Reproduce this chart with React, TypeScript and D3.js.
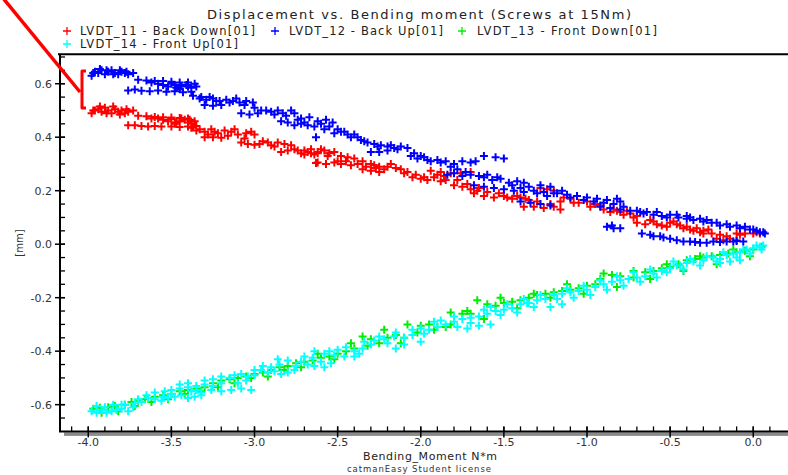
import { useEffect, useRef } from "react";
import * as d3 from "d3";

type Pt = [number, number];

const chartTitle = "Displacement vs. Bending moment (Screws at 15Nm)";
const seriesNames = [
  "LVDT_11 - Back Down[01]",
  "LVDT_12 - Back Up[01]",
  "LVDT_13 - Front Down[01]",
  "LVDT_14 - Front Up[01]",
];
const seriesColors = ["#ff0000", "#0000ff", "#00ee00", "#00ffff"];
const xMajorTicks = [-4.0, -3.5, -3.0, -2.5, -2.0, -1.5, -1.0, -0.5, 0.0];
const yMajorTicks = [-0.6, -0.4, -0.2, 0.0, 0.2, 0.4, 0.6];

// LVDT_11 - Back Down (red)
const backDown: Pt[] = [
  [-3.98, 0.49], [-3.96, 0.5], [-3.94, 0.505], [-3.92, 0.495], [-3.9, 0.51], [-3.88, 0.5], [-3.86, 0.49],
  [-3.84, 0.505], [-3.82, 0.495], [-3.8, 0.5], [-3.78, 0.49], [-3.76, 0.495], [-3.73, 0.5],
  [-3.7, 0.48], [-3.65, 0.478], [-3.6, 0.476], [-3.55, 0.475], [-3.5, 0.474], [-3.45, 0.472], [-3.4, 0.47],
  [-3.58, 0.47], [-3.55, 0.465], [-3.52, 0.46], [-3.5, 0.468], [-3.47, 0.455], [-3.45, 0.46], [-3.42, 0.465],
  [-3.4, 0.455], [-3.38, 0.45], [-3.36, 0.46],
  [-3.76, 0.445], [-3.72, 0.445], [-3.68, 0.442], [-3.64, 0.44], [-3.6, 0.442], [-3.56, 0.44], [-3.5, 0.44],
  [-3.45, 0.438], [-3.4, 0.44], [-3.35, 0.442],
  [-3.38, 0.435], [-3.35, 0.425], [-3.3, 0.42], [-3.26, 0.43], [-3.22, 0.415], [-3.18, 0.425], [-3.14, 0.42],
  [-3.1, 0.41], [-3.05, 0.415], [-3.0, 0.41], [-3.3, 0.4], [-3.25, 0.4], [-3.2, 0.398],
  [-3.08, 0.38], [-3.04, 0.375], [-3.0, 0.372], [-2.95, 0.385], [-2.9, 0.37], [-2.86, 0.38], [-2.82, 0.375], [-2.78, 0.37],
  [-2.84, 0.345], [-2.8, 0.35], [-2.76, 0.355], [-2.72, 0.34], [-2.68, 0.345], [-2.64, 0.335], [-2.62, 0.34], [-2.63, 0.304],
  [-2.7, 0.35], [-2.66, 0.355], [-2.62, 0.345], [-2.58, 0.35], [-2.55, 0.34], [-2.52, 0.345],
  [-2.62, 0.305], [-2.57, 0.3], [-2.52, 0.305], [-2.48, 0.3],
  [-2.48, 0.33], [-2.44, 0.325], [-2.4, 0.32], [-2.35, 0.31], [-2.3, 0.3], [-2.27, 0.285], [-2.25, 0.29], [-2.2, 0.29],
  [-2.15, 0.285], [-2.12, 0.28], [-2.08, 0.27], [-2.35, 0.28], [-2.3, 0.275], [-2.25, 0.27],
  [-2.05, 0.25], [-2.0, 0.245], [-1.96, 0.24], [-1.92, 0.25], [-1.88, 0.235], [-1.85, 0.24],
  [-1.94, 0.275], [-1.88, 0.27], [-1.82, 0.265], [-1.76, 0.265], [-1.7, 0.27],
  [-1.8, 0.22], [-1.75, 0.215], [-1.7, 0.205], [-1.65, 0.21],
  [-1.68, 0.19], [-1.62, 0.18], [-1.56, 0.175], [-1.5, 0.18], [-1.45, 0.17], [-1.4, 0.175], [-1.35, 0.165],
  [-1.38, 0.14], [-1.32, 0.14], [-1.26, 0.135], [-1.2, 0.14], [-1.16, 0.13],
  [-1.28, 0.21], [-1.24, 0.205], [-1.2, 0.2],
  [-1.16, 0.16], [-1.1, 0.17], [-1.05, 0.155], [-1.0, 0.16], [-0.95, 0.15],
  [-0.9, 0.13], [-0.86, 0.12], [-0.82, 0.125], [-0.78, 0.11], [-0.74, 0.115], [-0.7, 0.105],
  [-0.7, 0.08], [-0.65, 0.075], [-0.6, 0.085], [-0.55, 0.07], [-0.5, 0.08], [-0.46, 0.075],
  [-0.42, 0.06], [-0.38, 0.055], [-0.34, 0.06], [-0.3, 0.05], [-0.27, 0.055],
  [-0.22, 0.02], [-0.18, 0.015], [-0.14, 0.02], [-0.1, 0.015],
  [-0.3, 0.04], [-0.2, 0.035], [-0.1, 0.04], [0.0, 0.04], [0.04, 0.04],
  [-3.97, 0.5], [-3.93, 0.515], [-3.89, 0.49], [-3.85, 0.515], [-3.81, 0.485], [-3.77, 0.505], [-3.62, 0.47],
  [-3.48, 0.45], [-3.44, 0.47], [-3.39, 0.465], [-3.37, 0.44], [-3.33, 0.43], [-3.28, 0.41], [-3.24, 0.42],
  [-3.16, 0.405], [-3.12, 0.43], [-3.06, 0.395], [-3.02, 0.42], [-2.97, 0.375], [-2.92, 0.38], [-2.88, 0.365],
  [-2.74, 0.35], [-2.7, 0.335], [-2.66, 0.34], [-2.6, 0.355], [-2.56, 0.33], [-2.5, 0.31], [-2.45, 0.31],
  [-2.42, 0.295], [-2.38, 0.3], [-2.33, 0.29], [-2.28, 0.295], [-2.22, 0.28], [-2.18, 0.3], [-2.1, 0.265],
  [-2.03, 0.26], [-1.98, 0.25], [-1.9, 0.26], [-1.86, 0.255], [-1.78, 0.24], [-1.72, 0.225], [-1.66, 0.2],
  [-1.6, 0.195], [-1.53, 0.19], [-1.48, 0.175], [-1.42, 0.18], [-1.37, 0.17], [-1.3, 0.16], [-1.22, 0.15],
  [-1.14, 0.175], [-1.08, 0.155], [-0.98, 0.14], [-0.92, 0.145], [-0.84, 0.13], [-0.8, 0.12], [-0.76, 0.125],
  [-0.72, 0.1], [-0.62, 0.09], [-0.58, 0.075], [-0.52, 0.065], [-0.48, 0.085], [-0.44, 0.07], [-0.4, 0.065],
  [-0.36, 0.05], [-0.32, 0.045], [-0.25, 0.04], [-0.16, 0.03], [-0.08, 0.035], [-0.05, 0.04], [0.02, 0.045],
];

// LVDT_12 - Back Up (blue)
const backUp: Pt[] = [
  [-3.98, 0.63], [-3.96, 0.645], [-3.94, 0.64], [-3.92, 0.65], [-3.9, 0.635], [-3.88, 0.645], [-3.86, 0.65],
  [-3.84, 0.64], [-3.82, 0.635], [-3.8, 0.645], [-3.78, 0.64], [-3.76, 0.635], [-3.73, 0.64],
  [-3.7, 0.615], [-3.65, 0.612], [-3.6, 0.61], [-3.55, 0.61], [-3.5, 0.607], [-3.45, 0.605], [-3.4, 0.605],
  [-3.58, 0.6], [-3.55, 0.595], [-3.52, 0.59], [-3.5, 0.6], [-3.47, 0.585], [-3.44, 0.59], [-3.41, 0.595],
  [-3.38, 0.585], [-3.35, 0.59],
  [-3.76, 0.575], [-3.72, 0.578], [-3.68, 0.574], [-3.63, 0.572], [-3.58, 0.575], [-3.53, 0.57], [-3.48, 0.572],
  [-3.43, 0.568], [-3.38, 0.57],
  [-3.37, 0.555], [-3.33, 0.545], [-3.29, 0.54], [-3.25, 0.545], [-3.21, 0.535], [-3.17, 0.54], [-3.13, 0.535],
  [-3.09, 0.53], [-3.05, 0.535], [-3.01, 0.53], [-3.3, 0.52], [-3.25, 0.518], [-3.2, 0.52],
  [-3.08, 0.49], [-3.03, 0.485], [-2.98, 0.49], [-2.93, 0.5], [-2.88, 0.485], [-2.83, 0.49], [-2.78, 0.5], [-2.76, 0.49],
  [-2.84, 0.46], [-2.8, 0.455], [-2.76, 0.445], [-2.72, 0.45], [-2.68, 0.445], [-2.64, 0.44], [-2.63, 0.4],
  [-2.72, 0.47], [-2.67, 0.475], [-2.62, 0.46], [-2.57, 0.465], [-2.53, 0.455],
  [-2.64, 0.44], [-2.58, 0.43], [-2.52, 0.415], [-2.48, 0.42],
  [-2.46, 0.42], [-2.42, 0.4], [-2.4, 0.41], [-2.36, 0.39], [-2.32, 0.38], [-2.28, 0.375], [-2.24, 0.37],
  [-2.2, 0.365], [-2.16, 0.36], [-2.12, 0.365], [-2.08, 0.36], [-2.3, 0.345], [-2.25, 0.345], [-2.2, 0.35],
  [-2.06, 0.33], [-2.02, 0.32], [-1.98, 0.325], [-1.94, 0.31], [-1.9, 0.315], [-1.85, 0.31], [-1.8, 0.3],
  [-1.75, 0.31], [-1.7, 0.305], [-1.67, 0.31], [-1.62, 0.33], [-1.55, 0.325], [-1.5, 0.32],
  [-1.84, 0.26], [-1.8, 0.265], [-1.75, 0.255], [-1.7, 0.26], [-1.62, 0.25], [-1.57, 0.24], [-1.52, 0.245],
  [-1.47, 0.23], [-1.42, 0.235], [-1.38, 0.23],
  [-1.68, 0.22], [-1.62, 0.215], [-1.56, 0.21], [-1.5, 0.205], [-1.44, 0.2], [-1.38, 0.195], [-1.32, 0.2],
  [-1.26, 0.195], [-1.2, 0.19],
  [-1.4, 0.16], [-1.34, 0.155], [-1.28, 0.15], [-1.22, 0.145], [-1.28, 0.22], [-1.22, 0.215],
  [-1.18, 0.19], [-1.12, 0.185], [-1.06, 0.18], [-1.0, 0.175], [-0.94, 0.17], [-0.88, 0.165], [-0.82, 0.17], [-0.8, 0.16],
  [-0.92, 0.14], [-0.86, 0.135], [-0.8, 0.13], [-0.74, 0.125], [-0.68, 0.12],
  [-0.66, 0.115], [-0.6, 0.11], [-0.55, 0.105], [-0.5, 0.11], [-0.45, 0.1], [-0.4, 0.095], [-0.36, 0.09],
  [-0.4, 0.105], [-0.32, 0.095], [-0.28, 0.09], [-0.22, 0.08], [-0.16, 0.075], [-0.1, 0.07], [-0.05, 0.065],
  [0.0, 0.055], [0.04, 0.045], [0.07, 0.04],
  [-0.88, 0.065], [-0.84, 0.06], [-0.8, 0.06],
  [-0.67, 0.04], [-0.62, 0.035], [-0.56, 0.03], [-0.5, 0.02],
  [-0.42, 0.01], [-0.35, 0.008], [-0.28, 0.005], [-0.2, 0.008], [-0.12, 0.01], [-0.06, 0.01],
  [-3.97, 0.64], [-3.93, 0.655], [-3.89, 0.65], [-3.85, 0.635], [-3.81, 0.65], [-3.77, 0.645], [-3.62, 0.605],
  [-3.48, 0.595], [-3.45, 0.58], [-3.4, 0.59], [-3.36, 0.6], [-3.32, 0.55], [-3.27, 0.55], [-3.23, 0.535],
  [-3.15, 0.53], [-3.11, 0.545], [-3.06, 0.52], [-3.0, 0.51], [-2.96, 0.5], [-2.9, 0.495], [-2.86, 0.5],
  [-2.81, 0.48], [-2.74, 0.465], [-2.7, 0.455], [-2.6, 0.45], [-2.55, 0.44], [-2.5, 0.43], [-2.44, 0.41],
  [-2.38, 0.4], [-2.34, 0.385], [-2.26, 0.365], [-2.18, 0.37], [-2.14, 0.355], [-2.04, 0.34], [-2.0, 0.33],
  [-1.96, 0.315], [-1.88, 0.305], [-1.82, 0.29], [-1.78, 0.28], [-1.73, 0.27], [-1.65, 0.255], [-1.6, 0.26],
  [-1.54, 0.25], [-1.45, 0.22], [-1.4, 0.21], [-1.35, 0.215], [-1.3, 0.19], [-1.24, 0.18], [-1.15, 0.2],
  [-1.1, 0.175], [-1.02, 0.165], [-0.96, 0.16], [-0.9, 0.155], [-0.84, 0.15], [-0.78, 0.14], [-0.7, 0.125],
  [-0.64, 0.12], [-0.58, 0.12], [-0.52, 0.1], [-0.46, 0.11], [-0.38, 0.1], [-0.3, 0.085], [-0.25, 0.08],
  [-0.2, 0.07], [-0.14, 0.065], [-0.08, 0.06], [-0.02, 0.055], [0.02, 0.05], [0.06, 0.045], [-0.85, 0.07],
  [-0.6, 0.03], [-0.54, 0.025], [-0.46, 0.015], [-0.38, 0.01], [-0.32, 0.005], [-0.24, 0.01], [-0.16, 0.01],
  [-0.1, 0.012],
];

// LVDT_13 - Front Down (green)
const frontDown: Pt[] = [
  [-3.97, -0.615], [-3.93, -0.612], [-3.88, -0.61], [-3.84, -0.605], [-3.78, -0.6], [-3.74, -0.59], [-3.7, -0.585],
  [-3.66, -0.58], [-3.6, -0.57], [-3.55, -0.565], [-3.5, -0.56], [-3.45, -0.55], [-3.4, -0.545], [-3.35, -0.54],
  [-3.3, -0.535], [-3.25, -0.52], [-3.2, -0.51], [-3.15, -0.505], [-3.1, -0.5], [-3.05, -0.495], [-3.0, -0.485],
  [-2.95, -0.48], [-2.9, -0.47], [-2.85, -0.46], [-2.8, -0.455], [-2.75, -0.445], [-2.7, -0.44], [-2.65, -0.435],
  [-2.6, -0.425], [-2.55, -0.42], [-2.5, -0.41], [-2.45, -0.4], [-2.4, -0.39], [-2.35, -0.345], [-2.3, -0.355],
  [-2.25, -0.37], [-2.2, -0.35], [-2.15, -0.34], [-2.1, -0.35], [-2.08, -0.3], [-2.0, -0.305], [-1.95, -0.3],
  [-1.9, -0.31], [-1.85, -0.31], [-1.82, -0.255], [-1.75, -0.26], [-1.7, -0.26], [-1.66, -0.21], [-1.6, -0.225],
  [-1.55, -0.23], [-1.5, -0.22], [-1.45, -0.215], [-1.4, -0.21], [-1.35, -0.2], [-1.3, -0.19], [-1.25, -0.185],
  [-1.2, -0.18], [-1.15, -0.175], [-1.1, -0.17], [-1.05, -0.165], [-1.0, -0.155], [-0.95, -0.15], [-0.9, -0.11],
  [-0.85, -0.115], [-0.8, -0.12], [-0.72, -0.125], [-0.65, -0.105], [-0.6, -0.1], [-0.55, -0.09], [-0.5, -0.085],
  [-0.45, -0.075], [-0.4, -0.06], [-0.35, -0.055], [-0.3, -0.05], [-0.25, -0.045], [-0.2, -0.04], [-0.15, -0.035],
  [-0.1, -0.03], [-0.05, -0.025], [0.0, -0.02], [0.05, -0.01],
  [-3.92, -0.63], [-3.82, -0.625], [-3.72, -0.605], [-3.62, -0.59], [-3.52, -0.58], [-3.42, -0.56], [-3.32, -0.55],
  [-3.22, -0.535], [-3.12, -0.52], [-3.02, -0.5], [-2.92, -0.495], [-2.82, -0.47], [-2.72, -0.46], [-2.62, -0.41],
  [-2.52, -0.43], [-2.42, -0.37], [-2.32, -0.38], [-2.22, -0.32], [-2.12, -0.37], [-2.02, -0.33], [-1.92, -0.32],
  [-1.82, -0.3], [-1.72, -0.25], [-1.62, -0.28], [-1.52, -0.2], [-1.42, -0.24], [-1.32, -0.185], [-1.22, -0.2],
  [-1.12, -0.15], [-1.02, -0.185], [-0.92, -0.13], [-0.82, -0.16], [-0.72, -0.1], [-0.62, -0.13], [-0.52, -0.075],
  [-0.42, -0.1], [-0.32, -0.045], [-0.22, -0.075], [-0.12, -0.02], [-0.02, -0.045],
];

// LVDT_14 - Front Up (cyan)
const frontUp: Pt[] = [
  [-3.98, -0.625], [-3.95, -0.63], [-3.92, -0.62], [-3.89, -0.63], [-3.86, -0.625], [-3.83, -0.62], [-3.8, -0.615],
  [-3.76, -0.625], [-3.73, -0.61],
  [-3.78, -0.6], [-3.72, -0.595], [-3.68, -0.59], [-3.64, -0.575], [-3.6, -0.58], [-3.56, -0.585], [-3.52, -0.575],
  [-3.48, -0.57], [-3.44, -0.565], [-3.4, -0.575], [-3.36, -0.57], [-3.32, -0.565],
  [-3.54, -0.55], [-3.5, -0.545], [-3.45, -0.54], [-3.4, -0.535], [-3.35, -0.53], [-3.3, -0.525], [-3.25, -0.53], [-3.2, -0.52],
  [-3.38, -0.55], [-3.32, -0.555], [-3.26, -0.545], [-3.2, -0.55], [-3.14, -0.545], [-3.08, -0.54], [-3.02, -0.545],
  [-3.12, -0.49], [-3.08, -0.485], [-3.04, -0.495], [-3.0, -0.49],
  [-2.96, -0.47], [-2.92, -0.48], [-2.88, -0.475], [-2.84, -0.485], [-2.8, -0.48], [-2.76, -0.47],
  [-2.86, -0.43], [-2.8, -0.435],
  [-2.72, -0.44], [-2.68, -0.45], [-2.64, -0.455], [-2.58, -0.46], [-2.54, -0.445],
  [-2.64, -0.4], [-2.58, -0.41], [-2.52, -0.415], [-2.46, -0.42], [-2.4, -0.42], [-2.37, -0.41],
  [-2.34, -0.365], [-2.28, -0.36], [-2.22, -0.355], [-2.16, -0.345], [-2.1, -0.35], [-2.05, -0.32], [-2.0, -0.315],
  [-1.95, -0.32], [-1.9, -0.31], [-1.85, -0.3], [-2.15, -0.39], [-2.1, -0.375], [-2.0, -0.365],
  [-1.8, -0.29], [-1.75, -0.28], [-1.7, -0.275], [-1.65, -0.27], [-1.6, -0.26], [-1.55, -0.25], [-1.5, -0.245],
  [-1.45, -0.24], [-1.4, -0.225], [-1.36, -0.22], [-1.72, -0.315], [-1.65, -0.305], [-1.58, -0.3],
  [-1.35, -0.22], [-1.3, -0.21], [-1.25, -0.205], [-1.2, -0.19], [-1.15, -0.185], [-1.1, -0.18], [-1.05, -0.175],
  [-1.0, -0.17], [-0.95, -0.16], [-1.22, -0.235], [-1.15, -0.225],
  [-0.9, -0.15], [-0.85, -0.14], [-0.8, -0.135], [-0.75, -0.13], [-0.7, -0.125], [-0.65, -0.12], [-0.6, -0.11],
  [-0.55, -0.1], [-0.5, -0.09], [-0.46, -0.08],
  [-0.44, -0.08], [-0.4, -0.07], [-0.36, -0.065], [-0.3, -0.06],
  [-0.24, -0.05], [-0.2, -0.055], [-0.16, -0.04], [-0.12, -0.035], [-0.08, -0.03], [-0.04, -0.02], [0.0, -0.015],
  [0.04, -0.01], [0.06, -0.005], [-0.2, -0.07], [-0.14, -0.065], [-0.08, -0.06],
  [-3.95, -0.605], [-3.9, -0.61], [-3.85, -0.6], [-3.8, -0.6], [-3.7, -0.58], [-3.65, -0.565], [-3.6, -0.555],
  [-3.55, -0.57], [-3.5, -0.56], [-3.45, -0.525], [-3.4, -0.52], [-3.35, -0.545], [-3.3, -0.51], [-3.25, -0.505],
  [-3.2, -0.495], [-3.15, -0.5], [-3.1, -0.52], [-3.05, -0.51], [-3.0, -0.47], [-2.95, -0.455], [-2.9, -0.46],
  [-2.85, -0.45], [-2.75, -0.455], [-2.7, -0.42], [-2.65, -0.425], [-2.6, -0.44], [-2.55, -0.4], [-2.5, -0.395],
  [-2.45, -0.385], [-2.4, -0.4], [-2.35, -0.39], [-2.3, -0.375], [-2.25, -0.345], [-2.2, -0.37], [-2.15, -0.33],
  [-2.05, -0.34], [-1.98, -0.335], [-1.92, -0.29], [-1.88, -0.285], [-1.8, -0.27], [-1.78, -0.31], [-1.7, -0.295],
  [-1.62, -0.245], [-1.58, -0.235], [-1.52, -0.265], [-1.48, -0.225], [-1.42, -0.255], [-1.38, -0.205],
  [-1.32, -0.235], [-1.28, -0.19], [-1.18, -0.205], [-1.12, -0.165], [-1.08, -0.2], [-1.02, -0.155], [-0.98, -0.19],
  [-0.92, -0.135], [-0.88, -0.17], [-0.82, -0.12], [-0.78, -0.155], [-0.72, -0.105], [-0.68, -0.14], [-0.62, -0.095],
  [-0.58, -0.125], [-0.52, -0.105], [-0.48, -0.065], [-0.42, -0.095], [-0.38, -0.055], [-0.32, -0.08],
  [-0.28, -0.045], [-0.22, -0.065], [-0.18, -0.03], [-0.1, -0.05], [-0.06, -0.02], [-0.02, -0.035], [0.02, -0.005],
  [0.05, -0.02],
];

const allSeries = [backDown, backUp, frontDown, frontUp];

const W = 788;
const H = 475;
const FONT = "'DejaVu Sans', Verdana, sans-serif";

const App = () => {
  const ref = useRef<SVGSVGElement | null>(null);

  useEffect(() => {
    const svg = d3.select(ref.current);
    svg.selectAll("*").remove();

    const x = d3.scaleLinear().domain([-4.17, 0.2]).range([60, 786.5]);
    const y = d3.scaleLinear().domain([-0.7, 0.71]).range([431.4, 54.3]);

    const left = x(-4.17);
    const top = y(0.71);
    const bottom = y(-0.7);

    // title
    svg.append("text")
      .attr("x", 419).attr("y", 19)
      .attr("text-anchor", "middle")
      .attr("font-family", FONT).attr("font-size", 13)
      .attr("fill", "#222")
      .attr("textLength", 424).attr("lengthAdjust", "spacing")
      .text(chartTitle);

    // legend
    const legendPos = [
      { mx: 67, tx: 80, y: 31, w: 175 },
      { mx: 275, tx: 289, y: 31, w: 154 },
      { mx: 462, tx: 477, y: 31, w: 180 },
      { mx: 67, tx: 80, y: 44, w: 158 },
    ];
    seriesNames.forEach((name, i) => {
      const p = legendPos[i];
      svg.append("path")
        .attr("d", `M${p.mx - 4},${p.y}H${p.mx + 4}M${p.mx},${p.y - 4}V${p.y + 4}`)
        .attr("stroke", seriesColors[i]).attr("stroke-width", 1.3);
      svg.append("text")
        .attr("x", p.tx).attr("y", p.y + 4)
        .attr("font-family", FONT).attr("font-size", 11.5)
        .attr("fill", "#222")
        .attr("textLength", p.w).attr("lengthAdjust", "spacing")
        .text(name);
    });

    // frame
    svg.append("rect")
      .attr("x", 64).attr("y", bottom + 1)
      .attr("width", W - 64).attr("height", 3.5)
      .attr("fill", "#8a8a8a");
    svg.append("line")
      .attr("x1", left - 2).attr("x2", W).attr("y1", top).attr("y2", top)
      .attr("stroke", "#000").attr("stroke-width", 2);
    svg.append("line")
      .attr("x1", left).attr("x2", left).attr("y1", top).attr("y2", bottom)
      .attr("stroke", "#000").attr("stroke-width", 2);
    svg.append("line")
      .attr("x1", left - 1).attr("x2", W).attr("y1", bottom).attr("y2", bottom)
      .attr("stroke", "#000").attr("stroke-width", 2);

    // x ticks
    const xMinor = d3.range(-41, 2).map(i => i / 10);
    svg.append("g").selectAll("line")
      .data(xMinor)
      .enter().append("line")
      .attr("x1", d => x(d)).attr("x2", d => x(d))
      .attr("y1", bottom - 5).attr("y2", bottom)
      .attr("stroke", "#000").attr("stroke-width", 1.3);
    svg.append("g").selectAll("line")
      .data(xMajorTicks)
      .enter().append("line")
      .attr("x1", d => x(d)).attr("x2", d => x(d))
      .attr("y1", bottom - 5).attr("y2", bottom + 6)
      .attr("stroke", "#000").attr("stroke-width", 1.5);
    svg.append("g").selectAll("text")
      .data(xMajorTicks)
      .enter().append("text")
      .attr("x", d => x(d)).attr("y", 446)
      .attr("text-anchor", "middle")
      .attr("font-family", FONT).attr("font-size", 11)
      .attr("fill", "#333")
      .text(d => d3.format(".1f")(d).replace("−", "-"));

    // y ticks
    const yMinor = d3.range(-13, 15).map(i => i * 0.05);
    svg.append("g").selectAll("line")
      .data(yMinor)
      .enter().append("line")
      .attr("x1", left).attr("x2", left + 5)
      .attr("y1", d => y(d)).attr("y2", d => y(d))
      .attr("stroke", "#000").attr("stroke-width", 1.3);
    svg.append("g").selectAll("line")
      .data(yMajorTicks)
      .enter().append("line")
      .attr("x1", left - 5).attr("x2", left + 5)
      .attr("y1", d => y(d)).attr("y2", d => y(d))
      .attr("stroke", "#000").attr("stroke-width", 1.5);
    svg.append("g").selectAll("text")
      .data(yMajorTicks)
      .enter().append("text")
      .attr("x", 52).attr("y", d => y(d) + 4)
      .attr("text-anchor", "end")
      .attr("font-family", FONT).attr("font-size", 11)
      .attr("fill", "#333")
      .text(d => d3.format(".1f")(d).replace("−", "-"));

    // axis titles
    svg.append("text")
      .attr("x", 430).attr("y", 460)
      .attr("text-anchor", "middle")
      .attr("font-family", FONT).attr("font-size", 11)
      .attr("fill", "#222")
      .attr("textLength", 134).attr("lengthAdjust", "spacing")
      .text("Bending_Moment N*m");
    svg.append("text")
      .attr("x", 419).attr("y", 472)
      .attr("text-anchor", "middle")
      .attr("font-family", FONT).attr("font-size", 8.5)
      .attr("fill", "#333")
      .attr("textLength", 144).attr("lengthAdjust", "spacing")
      .text("catmanEasy Student license");
    svg.append("text")
      .attr("transform", "translate(23,243) rotate(-90)")
      .attr("text-anchor", "middle")
      .attr("font-family", FONT).attr("font-size", 10)
      .attr("fill", "#333")
      .text("[mm]");

    // data markers
    const cross = (d: Pt) => {
      const cx = x(d[0]);
      const cy = y(d[1]);
      return `M${cx - 4},${cy}H${cx + 4}M${cx},${cy - 4}V${cy + 4}`;
    };
    [2, 3, 0, 1].forEach(i => {
      svg.append("path")
        .attr("d", allSeries[i].map(cross).join(""))
        .attr("stroke", seriesColors[i])
        .attr("stroke-width", 2)
        .attr("fill", "none");
    });

    // red annotation
    svg.append("path")
      .attr("d", "M-2,-8L80,92")
      .attr("stroke", "#ff0000").attr("stroke-width", 3.5).attr("fill", "none");
    svg.append("path")
      .attr("d", "M86,71H82V108H86")
      .attr("stroke", "#ff0000").attr("stroke-width", 3).attr("fill", "none")
      .attr("stroke-linejoin", "round");
  }, []);

  return (
    <svg
      ref={ref}
      width={W}
      height={H}
      style={{ position: "absolute", left: 0, top: 0, background: "#fff" }}
    />
  );
};

export default App;
